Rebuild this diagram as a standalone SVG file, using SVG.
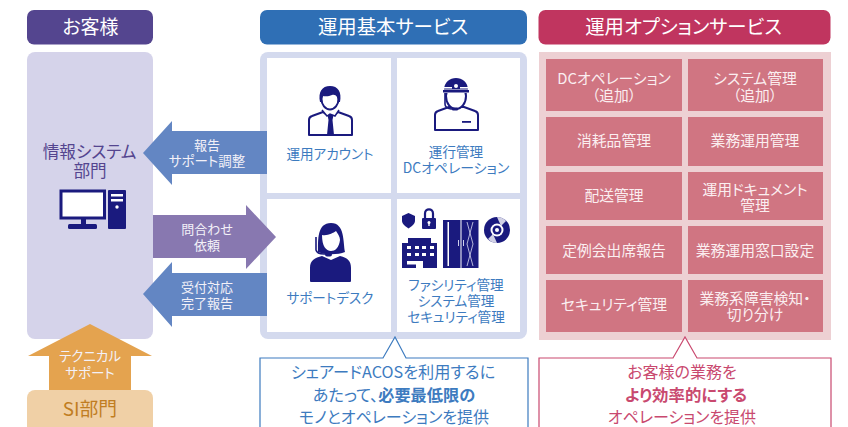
<svg xmlns="http://www.w3.org/2000/svg" width="848" height="427" viewBox="0 0 848 427">
<style>
text{font-family:"Noto Sans CJK JP","Noto Sans",sans-serif;text-anchor:middle;font-feature-settings:"palt"}
.h{font-size:19.400px;fill:#fff}
.w{font-size:13.500px;fill:#f3f1f8}
.b{font-size:13.600px;fill:#3d7bbf}
.o{font-size:14.800px;fill:#fbeef0}
.cb{font-size:16.200px;fill:#3d7bbf}
.cr{font-size:16px;fill:#c9496f}
.st{font-weight:700}
.n{fill:#1a1a7e}
.l{fill:#fff;stroke:#1a1a7e;stroke-width:2;stroke-linejoin:round}
.cell{fill:#d07582}
.wc{fill:#fff}
</style>
<rect width="848" height="427" fill="#fff"/>

<g id="header-customer"><rect x="27" y="10" width="126" height="34.500" rx="7" fill="#54458f"/><text class="h" x="90.500" y="34" style="font-size:19px">お客様</text></g>
<g id="header-basic"><rect x="260" y="10" width="267" height="34.500" rx="7" fill="#2f6fb5"/><text class="h" x="393" y="34">運用基本サービス</text></g>
<g id="header-option"><rect x="538.500" y="10" width="292" height="34.500" rx="7" fill="#c0355f"/><text class="h" x="683.500" y="34">運用オプションサービス</text></g>

<g id="customer-panel">
<rect x="27" y="52" width="126" height="287" rx="8" fill="#d5d3ea"/>
<text x="89.500" y="158" style="font-size:16.600px;fill:#54458f">情報システム</text>
<text x="90" y="177" style="font-size:16.600px;fill:#54458f">部門</text>
<rect x="61" y="191" width="43.500" height="27" fill="#fff" stroke="#1a1a7e" stroke-width="3"/>
<rect x="81" y="219" width="5" height="6" class="n"/>
<rect x="68" y="224" width="29" height="5" rx="1.500" class="n"/>
<rect x="108" y="190" width="18" height="39" rx="1" class="n"/>
<rect x="111" y="194" width="12" height="2.500" fill="#fff"/>
<rect x="111" y="199" width="12" height="2.500" fill="#fff"/>
<circle cx="117" cy="207" r="1.700" fill="#fff"/>
</g>

<g id="si-panel"><rect x="27" y="390" width="126" height="50" rx="8" fill="#f0d0a6"/><text x="90" y="416" style="font-size:18.800px;fill:#c07d22">SI部門</text></g>

<g id="basic-panel">
<rect x="260" y="52" width="267" height="287" rx="8" fill="#d4daee"/>
<rect x="267" y="58" width="124" height="135" class="wc"/>
<rect x="397" y="58" width="123" height="135" class="wc"/>
<rect x="267" y="199" width="124" height="133" class="wc"/>
<rect x="397" y="199" width="123" height="133" class="wc"/>
</g>

<g id="account">
<path class="l" d="M309 135V120Q309 117 312 116L323 112L327 115H334L338 112L349 116Q352 117 352 120V135Z"/>
<path class="n" d="M327.500 115H333.500L332.500 120L334 135H327L328.500 120Z"/>
<path d="M322 110L327 116L330 114L335 116L339 110" fill="#fff" stroke="#1a1a7e" stroke-width="1.500"/>
<ellipse cx="330" cy="99" rx="8.500" ry="10.500" fill="#fff" stroke="#1a1a7e" stroke-width="2"/>
<path class="n" d="M320 102C318 92 322 86 330 86C338 86 342 92 340 102L338 102C338 97 336 94 332 95C328 97 324 96 322 96C322 98 322 100 322 102Z"/>
<text class="b" x="330" y="159">運用アカウント</text>
</g>

<g id="dc-operation">
<path class="l" d="M435 130V115Q435 112 438 111L449 107H464L475 111Q478 112 478 115V130Z"/>
<ellipse cx="456" cy="96" rx="10" ry="13" fill="#fff" stroke="#1a1a7e" stroke-width="2"/>
<path class="n" d="M444 90C444 82 450 78 456 78C462 78 468 82 468 90Z"/>
<rect x="443" y="89.500" width="26" height="3.500" fill="#fff"/>
<rect x="443" y="90" width="26" height="2.500" class="n"/>
<rect x="443" y="87" width="9" height="1.500" fill="#fff"/>
<rect x="460" y="87" width="9" height="1.500" fill="#fff"/>
<circle cx="456" cy="86" r="2" fill="#fff"/>
<path d="M445 93V104Q445 108 451 109L456 109" fill="none" stroke="#1a1a7e" stroke-width="1.600"/>
<rect x="452" y="107.500" width="6" height="3" rx="1" class="n"/>
<rect x="462" y="121" width="9" height="1.800" class="n"/>
<text class="b" x="456" y="157">運行管理</text>
<text class="b" x="456" y="173" style="font-size:13.900px">DCオペレーション</text>
</g>

<g id="support-desk">
<path class="n" d="M318 252C318 240 317 223 331 223C345 223 343 242 345 252C338 255 325 255 318 252Z"/>
<path d="M322 235C328 236 333 233 336 231C338 234 340 237 340 240C339 248 335 251 331 251C326 251 322 246 322 235Z" fill="#fff"/>
<path class="n" d="M310 268C310 260 315 258 322 256L331 260L340 256C348 258 351 261 351 268V281Q351 282 350 282H311Q310 282 310 281Z"/>
<path d="M316 237V250Q317 254 324 254H331" fill="none" stroke="#1a1a7e" stroke-width="1.600"/>
<rect x="325" y="252.500" width="7" height="4" rx="2" class="n"/>
<text class="b" x="330" y="303">サポートデスク</text>
</g>

<g id="facility">
<path class="n" d="M402 216L408.500 213L415 216V221C415 224 411 227 408.500 228.500C406 227 402 224 402 221Z"/>
<path d="M425 219V213.500C425 208 433 208 433 213.500V219" fill="none" stroke="#1a1a7e" stroke-width="2.200"/>
<rect x="422" y="218" width="14" height="11" rx="1" class="n"/>
<circle cx="429" cy="222.500" r="1.500" fill="#fff"/>
<rect x="428.300" y="222.500" width="1.400" height="3.500" fill="#fff"/>
<path class="n" d="M408 238H431V243H437V268H423V261H416V268H402V243H408Z"/>
<g fill="#fff">
<rect x="407" y="246" width="4" height="3"/><rect x="415" y="246" width="4" height="3"/><rect x="422" y="246" width="4" height="3"/><rect x="430" y="246" width="4" height="3"/>
<rect x="407" y="253" width="4" height="3"/><rect x="415" y="253" width="4" height="3"/><rect x="422" y="253" width="4" height="3"/><rect x="430" y="253" width="4" height="3"/>
<rect x="407" y="261" width="9" height="3.500"/>
</g>
<rect x="443" y="220" width="17.500" height="48" class="n"/>
<rect x="461.500" y="220" width="17" height="48" class="n"/>
<rect x="447.500" y="222" width="1.500" height="44" fill="#fff"/>
<rect x="458" y="240" width="1" height="6" fill="#cfd0ea"/>
<rect x="463" y="240" width="1" height="6" fill="#cfd0ea"/>
<path d="M467 222L473 244L467 266M473 222L467 244L473 266" fill="none" stroke="#dcdcf0" stroke-width="0.800"/>
<circle cx="497" cy="230" r="13" class="n"/>
<circle cx="497" cy="230" r="6.500" fill="#fff"/>
<circle cx="497" cy="230" r="4.500" class="n"/>
<circle cx="497" cy="230" r="2" fill="#fff"/>
<path d="M497 217A13 13 0 0 1 506 221L501 226Z" fill="#fff" opacity="0.800"/>
<path d="M497 243A13 13 0 0 1 488 239L493 234Z" fill="#fff" opacity="0.800"/>
<text class="b" x="456" y="290">ファシリティ管理</text>
<text class="b" x="456" y="306">システム管理</text>
<text class="b" x="456" y="322">セキュリティ管理</text>
</g>

<g id="option-panel">
<rect x="539" y="52" width="292" height="288" fill="#edd0d3"/>
<rect class="cell" x="546" y="59" width="136" height="52"/><rect class="cell" x="688" y="59" width="135" height="52"/>
<rect class="cell" x="546" y="117" width="136" height="49"/><rect class="cell" x="688" y="117" width="135" height="49"/>
<rect class="cell" x="546" y="172" width="136" height="48"/><rect class="cell" x="688" y="172" width="135" height="48"/>
<rect class="cell" x="546" y="226" width="136" height="48"/><rect class="cell" x="688" y="226" width="135" height="48"/>
<rect class="cell" x="546" y="280" width="136" height="52"/><rect class="cell" x="688" y="280" width="135" height="52"/>
<text class="o" x="614" y="84">DCオペレーション</text><text class="o" x="614" y="101">（追加）</text>
<text class="o" x="755" y="84">システム管理</text><text class="o" x="755" y="101">（追加）</text>
<text class="o" x="614" y="146">消耗品管理</text><text class="o" x="755" y="146">業務運用管理</text>
<text class="o" x="614" y="201">配送管理</text>
<text class="o" x="755" y="195">運用ドキュメント</text><text class="o" x="755" y="211">管理</text>
<text class="o" x="614" y="256">定例会出席報告</text><text class="o" x="755" y="256">業務運用窓口設定</text>
<text class="o" x="614" y="310">セキュリティ管理</text>
<text class="o" x="755" y="304">業務系障害検知・</text><text class="o" x="755" y="320">切り分け</text>
</g>

<g id="connectors">
<g id="arrow-report">
<path d="M143 153L172 121V131H267V174H172V185Z" fill="#6386c3"/>
<text class="w" x="207" y="150" style="font-size:13px">報告</text><text class="w" x="207" y="166">サポート調整</text>
</g>
<g id="arrow-inquiry">
<path d="M153 215H246V205L276 237L246 269V258H153Z" fill="#8878b0"/>
<text class="w" x="207" y="234" style="font-size:13px">問合わせ</text><text class="w" x="207" y="250" style="font-size:13px">依頼</text>
</g>
<g id="arrow-complete">
<path d="M143 294L172 262V273H267V316H172V327Z" fill="#6386c3"/>
<text class="w" x="207" y="292" style="font-size:13px">受付対応</text><text class="w" x="207" y="308" style="font-size:13px">完了報告</text>
</g>
<g id="arrow-tech">
<path d="M90 324L152 356H131V390H49V356H28Z" fill="#e4a34f"/>
<text class="w" x="90" y="361">テクニカル</text><text class="w" x="90" y="378">サポート</text>
</g>
</g>

<g id="callout-basic">
<path d="M260 440V358H383L395 337L406 358H528V440" fill="#fff" stroke="#3d7bbf" stroke-width="1.200"/>
<text class="cb" x="393" y="378">シェアードACOSを利用するに</text>
<text class="cb" x="394" y="401">あたって、<tspan class="st">必要最低限の</tspan></text>
<text class="cb" x="394" y="423" style="font-size:16px">モノとオペレーションを提供</text>
</g>
<g id="callout-option">
<path d="M539 440V358H673L685 337L697 358H831V440" fill="#fff" stroke="#c9496f" stroke-width="1.200"/>
<text class="cr" x="682" y="378">お客様の業務を</text>
<text class="cr st" x="686" y="401" style="font-size:16.400px">より効率的にする</text>
<text class="cr" x="682" y="423">オペレーションを提供</text>
</g>
</svg>
